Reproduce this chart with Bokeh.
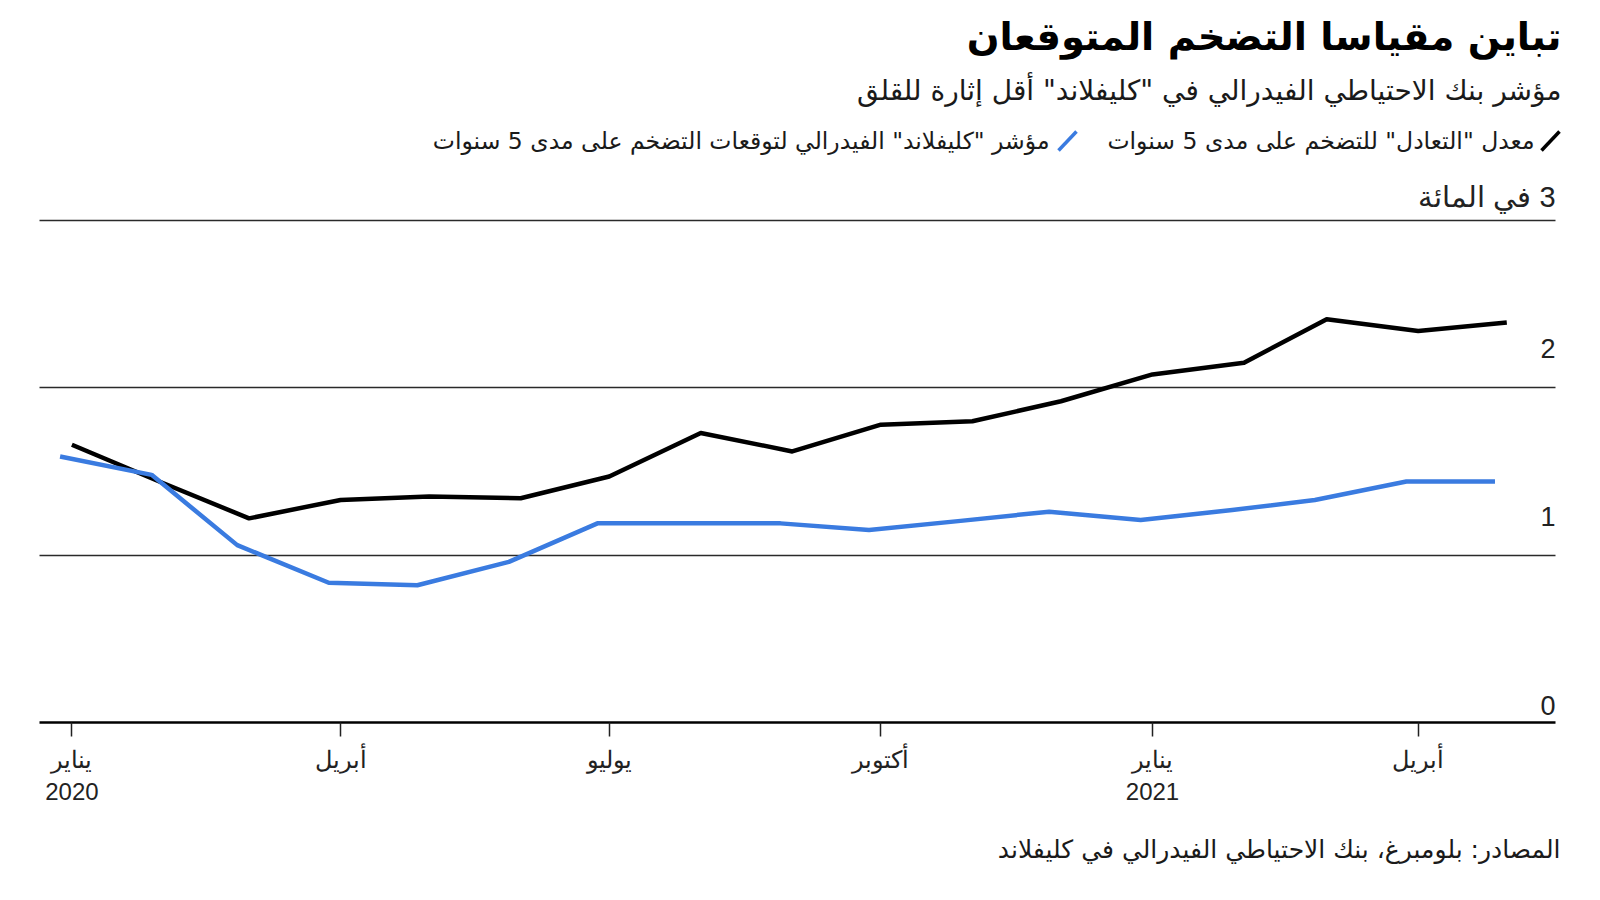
import pandas as pd
from bokeh.plotting import figure
from bokeh.models import Label, Arrow, FixedTicker, Range1d, Title, Grid
from bokeh.embed import file_html
from bokeh.resources import INLINE

# ---------------- data ----------------
breakeven_dates = ["2020-01-01", "2020-02-01", "2020-03-01", "2020-04-01", "2020-05-01",
                   "2020-06-01", "2020-07-01", "2020-08-01", "2020-09-01", "2020-10-01",
                   "2020-11-01", "2020-12-01", "2021-01-01", "2021-02-01", "2021-03-01",
                   "2021-04-01", "2021-05-01"]
breakeven_values = [1.66, 1.43, 1.22, 1.33, 1.35, 1.34, 1.47, 1.73, 1.62, 1.78,
                    1.80, 1.92, 2.08, 2.15, 2.41, 2.34, 2.39]

cleveland_dates = ["2019-12-28", "2020-01-28", "2020-02-26", "2020-03-28", "2020-04-27",
                   "2020-05-28", "2020-06-27", "2020-07-28", "2020-08-28", "2020-09-27",
                   "2020-10-28", "2020-11-27", "2020-12-28", "2021-01-28", "2021-02-25",
                   "2021-03-28", "2021-04-27"]
cleveland_values = [1.59, 1.48, 1.06, 0.835, 0.82, 0.96, 1.19, 1.19, 1.19, 1.15,
                    1.205, 1.26, 1.21, 1.27, 1.33, 1.44, 1.44]

xtick_dates = ["2020-01-01", "2020-04-01", "2020-07-01", "2020-10-01", "2021-01-01", "2021-04-01"]
xtick_labels = ["يناير\n2020", "أبريل", "يوليو", "أكتوبر", "يناير\n2021", "أبريل"]

ytick_values = [0, 1, 2, 3]
ytick_labels = ["0", "1", "2", "\u200f3 في المائة"]

title_text = "تباين مقياسا التضخم المتوقعان"
subtitle_text = 'مؤشر بنك الاحتياطي الفيدرالي في "كليفلاند" أقل إثارة للقلق'
legend_labels = ['معدل "التعادل" للتضخم على مدى 5 سنوات',
                 'مؤشر "كليفلاند" الفيدرالي لتوقعات التضخم على مدى 5 سنوات']
source_text = "المصادر: بلومبرغ، بنك الاحتياطي الفيدرالي في كليفلاند"

BLACK = "#000000"
BLUE = "#3a7be0"
AR_FONT = "DejaVu Sans"
NUM_FONT = "Liberation Sans"


def ms(d):
    return pd.Timestamp(d).value / 1e6


# ---------------- figure ----------------
FRAME_B = 722
plot_left = ms("2019-12-21 00:45")
plot_right = ms("2021-05-17 12:00")

p = figure(width=1600, height=900, output_backend="svg", toolbar_location=None,
           x_axis_type="datetime", y_axis_location=None,
           x_range=Range1d(ms("2019-12-07 19:40"), ms("2021-06-01 17:45")),
           y_range=Range1d(0, 722 / 167.333),
           min_border_left=0, min_border_right=0,
           min_border_top=0, min_border_bottom=900 - FRAME_B)
p.outline_line_color = None
p.background_fill_color = "white"
p.border_fill_color = "white"

p.xgrid.visible = False
grid = p.ygrid[0]
grid.ticker = FixedTicker(ticks=[1, 2, 3])
grid.grid_line_color = "#2a2a2a"
grid.grid_line_width = 1.4
if "cross_bounds" in Grid.properties():
    grid.cross_bounds = (plot_left, plot_right)
else:
    grid.visible = False
    for t in [1, 2, 3]:
        p.segment(x0=plot_left, x1=plot_right, y0=t, y1=t,
                  line_color="#2a2a2a", line_width=1.4)

ax = p.xaxis[0]
ax.bounds = (plot_left, plot_right)
ax.ticker = FixedTicker(ticks=[ms(d) for d in xtick_dates])
ax.major_label_overrides = {int(ms(d)): lab for d, lab in zip(xtick_dates, xtick_labels)}
ax.axis_line_color = "black"
ax.axis_line_width = 2.5
ax.major_tick_line_color = "#222222"
ax.major_tick_line_width = 1.5
ax.major_tick_out = 14
ax.major_tick_in = 0
ax.minor_tick_line_color = None
ax.major_label_standoff = 9
ax.major_label_text_font = NUM_FONT
ax.major_label_text_font_size = "24px"
ax.major_label_text_color = "#222222"

# ---------------- series ----------------
p.line(x=[pd.Timestamp(d) for d in breakeven_dates], y=breakeven_values,
       line_color=BLACK, line_width=4.5, line_join="round")
p.line(x=[pd.Timestamp(d) for d in cleveland_dates], y=cleveland_values,
       line_color=BLUE, line_width=4.5, line_join="round")

# ---------------- value labels (right side) ----------------
y_label_offsets = [17, 39, 39, 24]
y_label_sizes = ["27px", "27px", "27px", "29px"]
for v, lab, off, fs in zip(ytick_values, ytick_labels, y_label_offsets, y_label_sizes):
    p.add_layout(Label(x=1555, y=v, x_units="screen", y_units="data",
                       y_offset=off, text=lab, text_align="right", text_baseline="middle",
                       text_font=NUM_FONT, text_font_size=fs, text_color="#222222"))


def sl(X, Y, text, size, bold=False, font=AR_FONT, color="#111111"):
    p.add_layout(Label(x=X, y=FRAME_B - Y, x_units="screen", y_units="screen",
                       text=text, text_align="right", text_baseline="middle",
                       text_font=font, text_font_size=size,
                       text_font_style="bold" if bold else "normal", text_color=color))


# ---------------- titles ----------------
sl(1561, 36, title_text, "38.5px", bold=True, color="#000000")
sl(1561, 90, subtitle_text, "28px", color="#1a1a1a")

# ---------------- legend ----------------
legend_text_right = [1534, 1049]
legend_icon_x = [1541, 1058]
legend_colors = [BLACK, BLUE]
for lab, tx, ix, col in zip(legend_labels, legend_text_right, legend_icon_x, legend_colors):
    p.add_layout(Arrow(end=None, x_start=ix, y_start=FRAME_B - 150,
                       x_end=ix + 18, y_end=FRAME_B - 131,
                       start_units="screen", end_units="screen",
                       line_color=col, line_width=3.5))
    sl(tx, 140, lab, "23.5px", color="#1a1a1a")

# ---------------- source ----------------
p.add_layout(Title(text=source_text, align="right", offset=40, standoff=50,
                   text_font=AR_FONT, text_font_size="25px", text_font_style="normal",
                   text_color="#1a1a1a"), "below")

open("out.html", "w").write(file_html(p, INLINE))
